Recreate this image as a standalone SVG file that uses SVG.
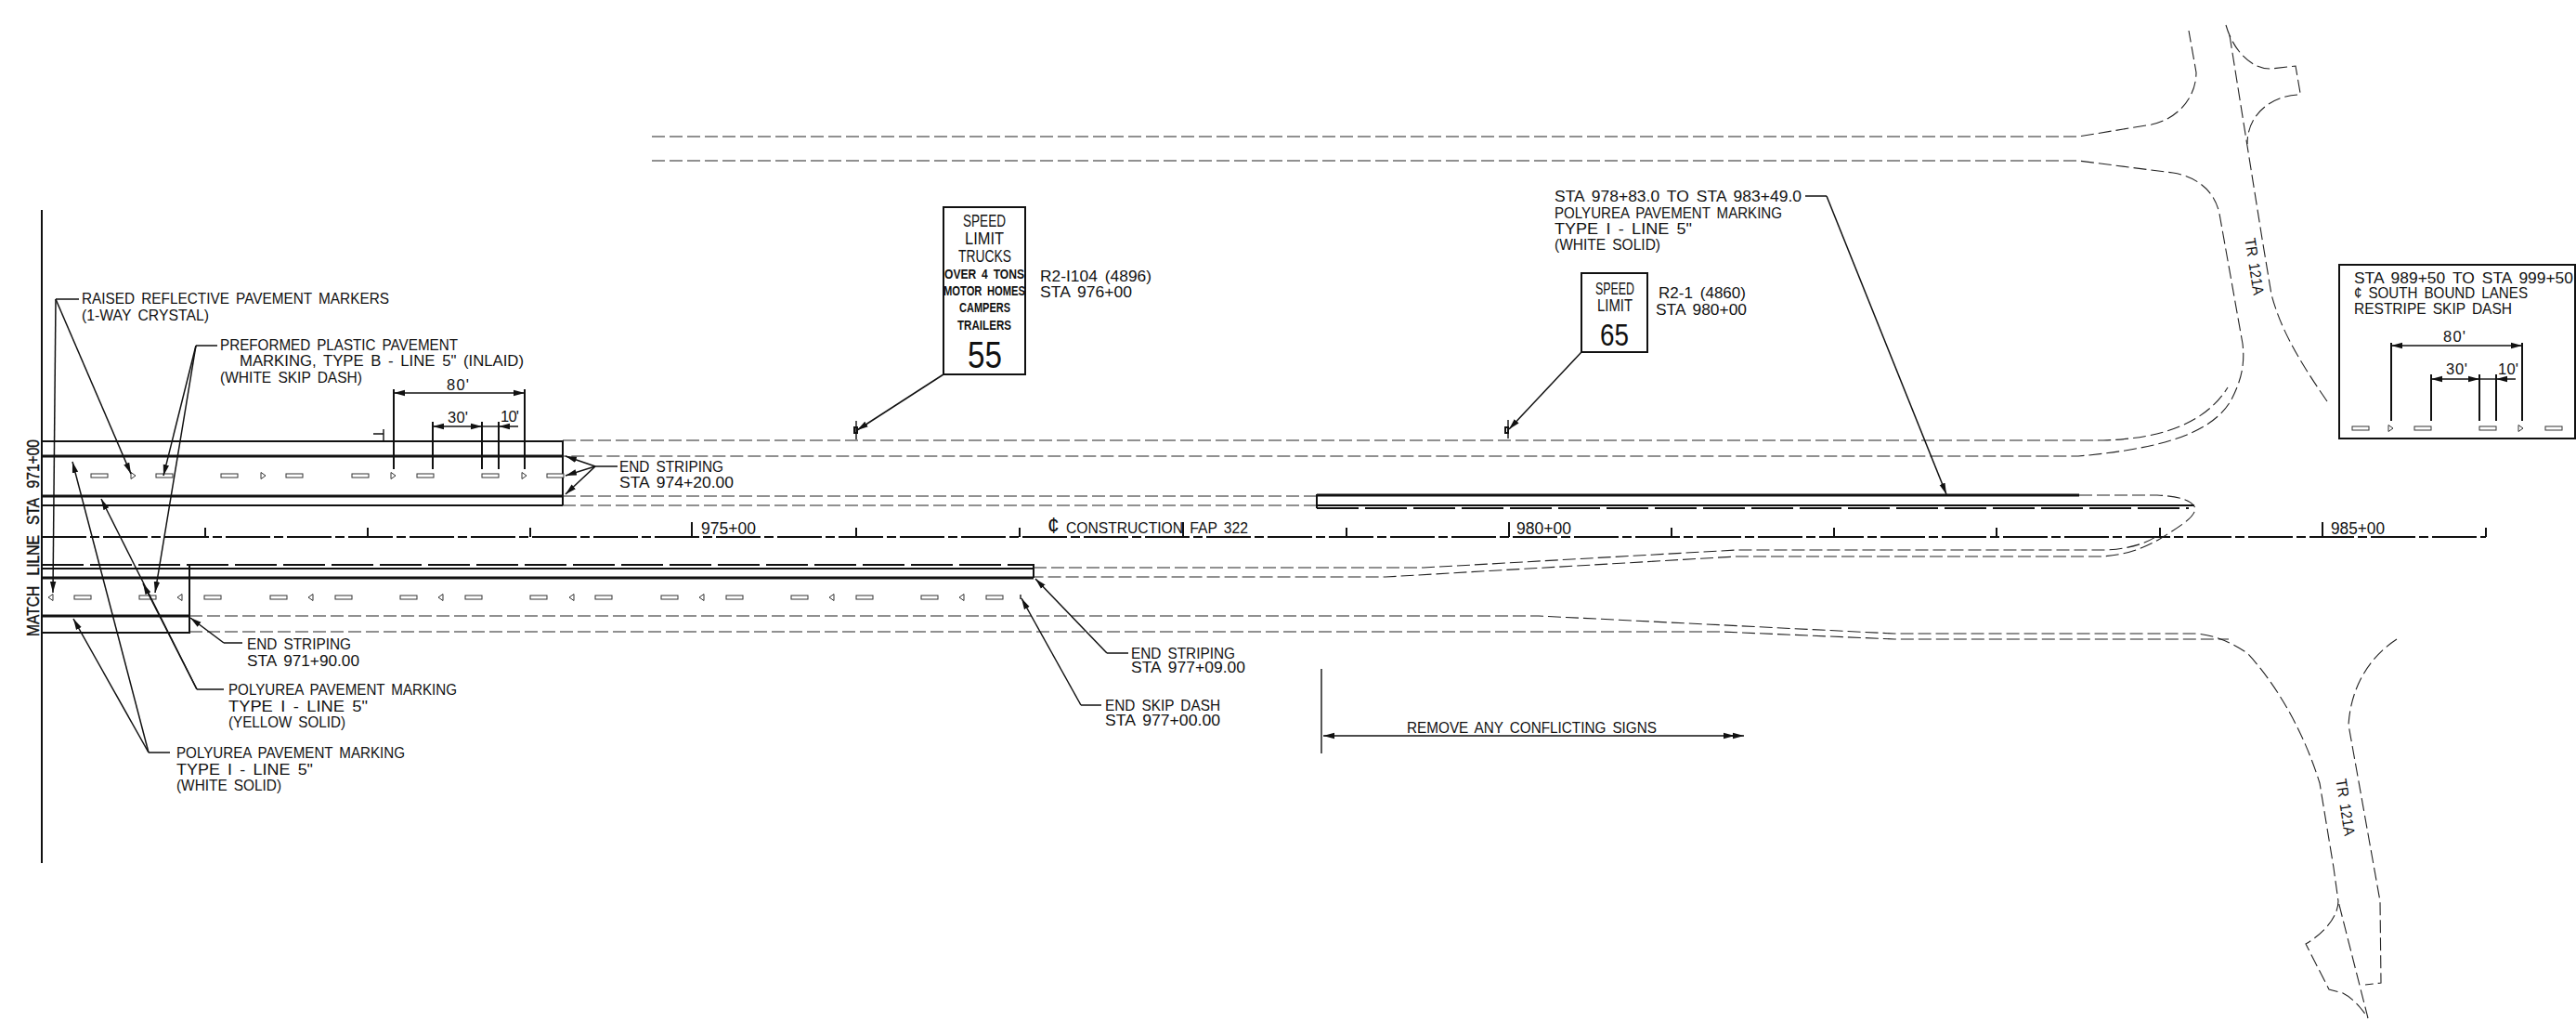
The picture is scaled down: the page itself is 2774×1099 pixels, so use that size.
<svg xmlns="http://www.w3.org/2000/svg" width="2774" height="1099" viewBox="0 0 2774 1099">
<style>
text{font-family:"Liberation Sans",Arial,sans-serif;font-size:16.5px;fill:#111;word-spacing:3px}
.b{font-weight:bold;font-size:14px}
.s{font-size:18px}
.m{font-size:18px;stroke:#111;stroke-width:.4;word-spacing:8px}
.big{font-size:40px}
.mid{font-size:34px}
.l{fill:none;stroke:#111;stroke-width:1.4}
.k{fill:none;stroke:#111;stroke-width:3}
.md{fill:none;stroke:#111;stroke-width:2}
.road{fill:none;stroke:#222;stroke-width:1.1;stroke-dasharray:14 5}
.cl{fill:none;stroke:#111;stroke-width:2.2;stroke-dasharray:48 4 10 4}
.hd{fill:none;stroke:#111;stroke-width:2;stroke-dasharray:45 7}
.dash{fill:#fff;stroke:#333;stroke-width:1}
.sign{fill:#fff;stroke:#111;stroke-width:2}
.a{fill:none;stroke:#111;stroke-width:1.5;marker-end:url(#ah)}
.d{fill:none;stroke:#111;stroke-width:1.5;marker-start:url(#as);marker-end:url(#ah)}
</style>
<defs>
<marker id="ah" markerUnits="userSpaceOnUse" markerWidth="13" markerHeight="8" refX="12" refY="4" orient="auto"><path d="M0 0.8L12 4L0 7.2z" fill="#111"/></marker>
<marker id="as" markerUnits="userSpaceOnUse" markerWidth="13" markerHeight="8" refX="1" refY="4" orient="auto"><path d="M13 0.8L1 4L13 7.2z" fill="#111"/></marker>
<rect id="sk" width="18" height="4" class="dash"/>
<path id="tr" d="M0 -3.5L5 0L0 3.5z" class="dash"/>
<path id="tl" d="M5 -3.5L0 0L5 3.5z" class="dash"/>
</defs>
<rect width="2774" height="1099" fill="#fff"/>

<g id="roadway">
<path class="md" d="M45 226V929"/>
<path class="md" d="M45 475H606V544M45 544H606"/>
<path class="k" d="M45 491H606M45 534H606"/>
<path class="md" d="M45 612H1113M204 608V682M1113 607V622M45 681H204"/>
<path class="k" d="M45 622H1113M45 663H204"/>
<path class="hd" d="M45 608H1113"/>
<path class="cl" d="M45 578H2677"/>
<path class="md" d="M221 578V568M396 578V568M571 578V568M745 578V562M922 578V568M1098 578V568M1274 578V562M1450 578V568M1625 578V562M1800 578V568M1975 578V568M2150 578V568M2326 578V568M2501 578V562M2677 578V568"/>
<path class="road" d="M702 173H2238L2340 186C2365 190 2385 205 2390 230L2415 370C2418 395 2412 412 2403 430C2385 462 2340 482 2238 491H606"/>
<path class="road" d="M702 147H2238L2317 134C2345 128 2365 105 2365 78L2357 33"/>
<path class="road" d="M606 474H2265C2330 472 2375 455 2399 417"/>
<path class="road" d="M606 534H1418M606 544H1418"/>
<path class="k" d="M1418 533H2239"/>
<path class="md" d="M1418 532V547M1418 544H2363"/>
<path class="hd" d="M1418 547H2357"/>
<path class="road" d="M2239 533H2323C2345 534 2358 538 2363 545C2368 555 2345 568 2326 580C2300 595 2280 598 2262 599H1870L1492 621H1113"/>
<path class="road" d="M1113 611H1533L1870 592H2269C2296 590 2310 585 2323 577"/>
<path class="road" d="M204 663H1657L2040 682H2365C2385 684 2400 690 2420 703C2450 735 2480 785 2498 843L2513 934L2518 970C2518 985 2505 1003 2483 1016L2508 1065L2523 1069C2535 1075 2545 1088 2550 1096L2518 970"/>
<path class="road" d="M204 680H1853L2040 688H2400"/>
<path class="road" d="M2581 688C2555 705 2532 735 2529 780L2563 970L2564 1058L2547 1060"/>
<path class="road" d="M2397 27C2405 55 2425 75 2446 74L2472 71L2477 100"/>
<path class="road" d="M2401 38L2420 157L2436 257L2446 317C2455 350 2470 380 2506 432"/>
<path class="road" d="M2474 102C2450 103 2420 120 2420 155"/>
</g>

<g id="skip-dashes">
<use href="#sk" x="98" y="510"/><use href="#sk" x="168" y="510"/><use href="#sk" x="238" y="510"/><use href="#sk" x="308" y="510"/><use href="#sk" x="379" y="510"/><use href="#sk" x="449" y="510"/><use href="#sk" x="519" y="510"/><use href="#sk" x="589" y="510"/>
<use href="#tr" x="141" y="512"/><use href="#tr" x="281" y="512"/><use href="#tr" x="421" y="512"/><use href="#tr" x="562" y="512"/>
<use href="#sk" x="80" y="641"/><use href="#sk" x="150" y="641"/><use href="#sk" x="220" y="641"/><use href="#sk" x="291" y="641"/><use href="#sk" x="361" y="641"/><use href="#sk" x="431" y="641"/><use href="#sk" x="501" y="641"/><use href="#sk" x="571" y="641"/><use href="#sk" x="641" y="641"/><use href="#sk" x="712" y="641"/><use href="#sk" x="782" y="641"/><use href="#sk" x="852" y="641"/><use href="#sk" x="922" y="641"/><use href="#sk" x="992" y="641"/><use href="#sk" x="1062" y="641"/>
<use href="#tl" x="52" y="643"/><use href="#tl" x="191" y="643"/><use href="#tl" x="332" y="643"/><use href="#tl" x="472" y="643"/><use href="#tl" x="613" y="643"/><use href="#tl" x="753" y="643"/><use href="#tl" x="893" y="643"/><use href="#tl" x="1033" y="643"/>
<path class="l" d="M1099 640V645"/>
</g>

<g id="connectors">
<path class="l" d="M85 322H60M234 372H211M665 502H641M261 692H241M241 742H212M183 810H160M1215 703H1192M1186 759H1164M1944 211H1967M413 462V475M402 467H413M922 453V473M1624 452V472"/>
<path class="md" d="M920 460h3v6h-3zM1621 460h3v6h-3z"/>
<path class="a" d="M60 322L141 510"/>
<path class="a" d="M60 322L57 638"/>
<path class="a" d="M211 372L176 512"/>
<path class="a" d="M211 372L167 638"/>
<path class="a" d="M641 502L609 491"/>
<path class="a" d="M641 502L609 512"/>
<path class="a" d="M641 502L609 532"/>
<path class="a" d="M241 692L205 665"/>
<path class="a" d="M212 742L109 537"/>
<path class="a" d="M212 742L154 628"/>
<path class="a" d="M160 810L79 666"/>
<path class="a" d="M160 810L78 497"/>
<path class="a" d="M1192 703L1115 623"/>
<path class="a" d="M1164 759L1100 644"/>
<path class="a" d="M1967 211L2096 532"/>
<path class="a" d="M1016 403L923 463"/>
<path class="a" d="M1703 379L1625 462"/>
<path class="l" d="M1423 720V811"/>
<path class="d" d="M1425 792H1878"/>
<path class="a" d="M1860 792H1868"/>
</g>

<g id="dim-main">
<path class="md" d="M424 419V505M565 419V505M466 454V505M519 454V505M537 454V505"/>
<path class="d" d="M424 423H565"/>
<path class="d" d="M466 459H519"/>
<path class="a" d="M558 459H537"/>
<path class="l" d="M519 459H537"/>
<text x="481" y="420" textLength="24">80'</text>
<text x="482" y="455" textLength="22">30'</text>
<text x="539" y="454" textLength="20">10'</text>
</g>

<g id="note-raised">
<text x="88" y="327" textLength="331" lengthAdjust="spacingAndGlyphs">RAISED REFLECTIVE PAVEMENT MARKERS</text>
<text x="88" y="345" textLength="137" lengthAdjust="spacingAndGlyphs">(1-WAY CRYSTAL)</text>
</g>
<g id="note-preformed">
<text x="237" y="377" textLength="256" lengthAdjust="spacingAndGlyphs">PREFORMED PLASTIC PAVEMENT</text>
<text x="258" y="394" textLength="306" lengthAdjust="spacingAndGlyphs">MARKING, TYPE B - LINE 5" (INLAID)</text>
<text x="237" y="412" textLength="153" lengthAdjust="spacingAndGlyphs">(WHITE SKIP DASH)</text>
</g>
<g id="note-end-974">
<text x="667" y="508" textLength="112" lengthAdjust="spacingAndGlyphs">END STRIPING</text>
<text x="667" y="525" textLength="123" lengthAdjust="spacingAndGlyphs">STA 974+20.00</text>
</g>
<g id="note-end-971">
<text x="266" y="699" textLength="112" lengthAdjust="spacingAndGlyphs">END STRIPING</text>
<text x="266" y="717" textLength="121" lengthAdjust="spacingAndGlyphs">STA 971+90.00</text>
</g>
<g id="note-yellow">
<text x="246" y="748" textLength="246" lengthAdjust="spacingAndGlyphs">POLYUREA PAVEMENT MARKING</text>
<text x="246" y="766" textLength="150" lengthAdjust="spacingAndGlyphs">TYPE I - LINE 5"</text>
<text x="246" y="783" textLength="126" lengthAdjust="spacingAndGlyphs">(YELLOW SOLID)</text>
</g>
<g id="note-white">
<text x="190" y="816" textLength="246" lengthAdjust="spacingAndGlyphs">POLYUREA PAVEMENT MARKING</text>
<text x="190" y="834" textLength="147" lengthAdjust="spacingAndGlyphs">TYPE I - LINE 5"</text>
<text x="190" y="851" textLength="113" lengthAdjust="spacingAndGlyphs">(WHITE SOLID)</text>
</g>
<g id="note-end-977">
<text x="1218" y="709" textLength="112" lengthAdjust="spacingAndGlyphs">END STRIPING</text>
<text x="1218" y="724" textLength="123" lengthAdjust="spacingAndGlyphs">STA 977+09.00</text>
</g>
<g id="note-skip-977">
<text x="1190" y="765" textLength="124" lengthAdjust="spacingAndGlyphs">END SKIP DASH</text>
<text x="1190" y="781" textLength="124" lengthAdjust="spacingAndGlyphs">STA 977+00.00</text>
</g>
<g id="note-978">
<text x="1674" y="217" textLength="266" lengthAdjust="spacingAndGlyphs">STA 978+83.0 TO STA 983+49.0</text>
<text x="1674" y="235" textLength="245" lengthAdjust="spacingAndGlyphs">POLYUREA PAVEMENT MARKING</text>
<text x="1674" y="252" textLength="148" lengthAdjust="spacingAndGlyphs">TYPE I - LINE 5"</text>
<text x="1674" y="269" textLength="114" lengthAdjust="spacingAndGlyphs">(WHITE SOLID)</text>
</g>
<g id="note-remove">
<text x="1515" y="789" textLength="269" lengthAdjust="spacingAndGlyphs">REMOVE ANY CONFLICTING SIGNS</text>
</g>

<g id="stations">
<text class="s" x="755" y="575" textLength="59" lengthAdjust="spacingAndGlyphs">975+00</text>
<text class="s" x="1633" y="575" textLength="59" lengthAdjust="spacingAndGlyphs">980+00</text>
<text class="s" x="2510" y="575" textLength="58" lengthAdjust="spacingAndGlyphs">985+00</text>
<text x="1128" y="574" textLength="216" lengthAdjust="spacingAndGlyphs"><tspan font-size="24">¢</tspan> CONSTRUCTION FAP 322</text>
<text class="m" transform="translate(42 685) rotate(-90)" x="0" y="0" textLength="212" lengthAdjust="spacingAndGlyphs">MATCH LILNE STA 971+00</text>
<text transform="translate(2427 287) rotate(81)" x="-31" y="5" textLength="62" lengthAdjust="spacingAndGlyphs">TR 121A</text>
<text transform="translate(2525 869) rotate(81)" x="-31" y="5" textLength="62" lengthAdjust="spacingAndGlyphs">TR 121A</text>
</g>

<g id="sign-55">
<rect class="sign" x="1016" y="223" width="88" height="180"/>
<text class="s" x="1037" y="244" textLength="46" lengthAdjust="spacingAndGlyphs">SPEED</text>
<text class="s" x="1039" y="263" textLength="42" lengthAdjust="spacingAndGlyphs">LIMIT</text>
<text class="s" x="1032" y="282" textLength="57" lengthAdjust="spacingAndGlyphs">TRUCKS</text>
<text class="b" x="1017" y="300" textLength="86" lengthAdjust="spacingAndGlyphs">OVER 4 TONS</text>
<text class="b" x="1016" y="318" textLength="88" lengthAdjust="spacingAndGlyphs">MOTOR HOMES</text>
<text class="b" x="1033" y="336" textLength="55" lengthAdjust="spacingAndGlyphs">CAMPERS</text>
<text class="b" x="1031" y="355" textLength="58" lengthAdjust="spacingAndGlyphs">TRAILERS</text>
<text class="big" x="1042" y="396" textLength="37" lengthAdjust="spacingAndGlyphs">55</text>
<text x="1120" y="303" textLength="120" lengthAdjust="spacingAndGlyphs">R2-I104 (4896)</text>
<text x="1120" y="320" textLength="99" lengthAdjust="spacingAndGlyphs">STA 976+00</text>
</g>
<g id="sign-65">
<rect class="sign" x="1703" y="294" width="71" height="85"/>
<text class="s" x="1718" y="317" textLength="42" lengthAdjust="spacingAndGlyphs">SPEED</text>
<text class="s" x="1720" y="335" textLength="38" lengthAdjust="spacingAndGlyphs">LIMIT</text>
<text class="mid" x="1723" y="372" textLength="31" lengthAdjust="spacingAndGlyphs">65</text>
<text x="1786" y="321" textLength="94" lengthAdjust="spacingAndGlyphs">R2-1 (4860)</text>
<text x="1783" y="339" textLength="98" lengthAdjust="spacingAndGlyphs">STA 980+00</text>
</g>

<g id="inset">
<rect class="sign" x="2519" y="285" width="254" height="187"/>
<text x="2535" y="305" textLength="236" lengthAdjust="spacingAndGlyphs">STA 989+50 TO STA 999+50</text>
<text x="2535" y="321" textLength="187" lengthAdjust="spacingAndGlyphs">¢ SOUTH BOUND LANES</text>
<text x="2535" y="338" textLength="170" lengthAdjust="spacingAndGlyphs">RESTRIPE SKIP DASH</text>
<path class="md" d="M2575 369V453M2716 369V453M2618 403V453M2670 403V453M2688 403V453"/>
<path class="d" d="M2575 372H2716"/>
<path class="d" d="M2618 408H2670"/>
<path class="a" d="M2709 408H2688"/>
<path class="l" d="M2670 408H2688"/>
<text x="2631" y="368" textLength="24">80'</text>
<text x="2634" y="403" textLength="23">30'</text>
<text x="2690" y="403" textLength="22">10'</text>
<use href="#sk" x="2533" y="459"/><use href="#sk" x="2600" y="459"/><use href="#sk" x="2670" y="459"/><use href="#sk" x="2741" y="459"/>
<use href="#tr" x="2572" y="461"/><use href="#tr" x="2712" y="461"/>
</g>
</svg>
